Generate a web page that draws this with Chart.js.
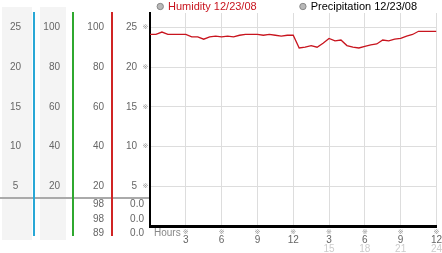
<!DOCTYPE html>
<html>
<head>
<meta charset="utf-8">
<script src="https://cdn.jsdelivr.net/npm/chart.js@4.4.1/dist/chart.umd.min.js"></script>
<style>
  html, body { margin: 0; padding: 0; background: #fff; }
  #chart { display: block; }
</style>
</head>
<body>
<canvas id="chart" width="442" height="253"></canvas>
<script>
// Half-hour readings, 12/23/08
const hours = [0, 0.5, 1, 1.5, 2, 2.5, 3, 3.5, 4, 4.5, 5, 5.5, 6, 6.5, 7, 7.5, 8, 8.5, 9, 9.5,
  10, 10.5, 11, 11.5, 12, 12.5, 13, 13.5, 14, 14.5, 15, 15.5, 16, 16.5, 17, 17.5, 18, 18.5, 19, 19.5,
  20, 20.5, 21, 21.5, 22, 22.5, 23, 23.5, 24];
const humidity = [24.1, 24.1, 24.4, 24.1, 24.1, 24.1, 24.1, 23.8, 23.8, 23.5, 23.8, 23.9, 23.8, 23.9, 23.8, 24.0, 24.1, 24.1, 24.1, 24.0,
  24.1, 24.0, 23.9, 24.0, 24.0, 22.4, 22.5, 22.7, 22.5, 23.0, 23.6, 23.3, 23.4, 22.7, 22.5, 22.4, 22.6, 22.8, 22.9, 23.4,
  23.3, 23.5, 23.6, 23.9, 24.1, 24.5, 24.5, 24.5, 24.5];
const precipHours = [0, 3, 6, 9, 12, 15, 18, 21, 24];
const precipitation = [0, 0, 0, 0, 0, 0, 0, 0, 0];

const seriesLabels = ['Humidity 12/23/08', 'Precipitation 12/23/08'];
const legendColors = ['#c8141e', '#000000'];

// left-hand scale columns
const scaleA = [5, 10, 15, 20, 25];
const scaleB = [20, 40, 60, 80, 100];
const scaleC = [20, 40, 60, 80, 100];
const scaleD = [5, 10, 15, 20, 25];

// current / min / max readings under the scale columns
const readingsC = ['98', '98', '89'];
const readingsD = ['0.0', '0.0', '0.0'];

// x tick labels, every 3 hours
const hourTicks = ['3', '6', '9', '12', '3', '6', '9', '12'];
const dayTicks = ['', '', '', '', '15', '18', '21', '24'];

const axisFont = { family: 'Liberation Sans', size: 10 };
const keepTicks = values => scale => {
    scale.ticks = scale.ticks.filter(t => values.includes(t.value));
};
// label offset comes from an invisible tick mark, so it doesn't add layout padding
const sideGrid = len => ({ display: false, drawTicks: true, tickLength: len });

const panelPlugin = {
    id: 'panel',
    afterLayout(chart) {
        // start the legend just right of the value axis
        const lg = chart.legend;
        const dx = chart.chartArea.left + 8 - (lg.left + lg.options.labels.padding);
        lg.left += dx;
        lg.right += dx;
    },
    beforeDraw(chart) {
        const { ctx, chartArea, scales } = chart;
        ctx.save();
        ctx.fillStyle = '#f4f4f4';
        ctx.fillRect(scales.yA.left + 2, 7, scales.yA.width - 3, 233);
        ctx.fillRect(scales.yB.left + 7, 7, scales.yB.width - 13, 233);
        ctx.fillStyle = '#aaaaaa';
        ctx.fillRect(0, chartArea.bottom - 29, chartArea.left, 2);
        ctx.restore();
    },
    afterDraw(chart) {
        const { ctx, chartArea, scales } = chart;
        ctx.save();
        // coloured column rules
        const rules = [[scales.yA, '#29a8d6'], [scales.yB, '#2fa82f'], [scales.yC, '#d02424']];
        rules.forEach(([s, c]) => {
            ctx.fillStyle = c;
            ctx.fillRect(Math.round(s.right), chartArea.top - 1, 2, chartArea.bottom - chartArea.top + 11);
        });
        // readings
        ctx.font = '10px "Liberation Sans"';
        ctx.fillStyle = '#666';
        ctx.textAlign = 'right';
        ctx.textBaseline = 'middle';
        [-22, -7, 7].forEach((dy, i) => {
            ctx.fillText(readingsC[i], scales.yC.right - 7, chartArea.bottom + dy);
            ctx.fillText(readingsD[i], scales.y.right - 6, chartArea.bottom + dy);
        });
        // tick markers
        ctx.font = '7px "DejaVu Sans"';
        ctx.fillStyle = '#999';
        ctx.textAlign = 'center';
        scales.y.ticks.forEach(t => {
            ctx.fillText('\u203B', chartArea.left - 4.5, scales.y.getPixelForValue(t.value));
        });
        scales.x.ticks.forEach(t => {
            if (t.value > 0) ctx.fillText('\u203B', scales.x.getPixelForValue(t.value), chartArea.bottom + 6);
        });
        // axis caption
        ctx.font = '10px "Liberation Sans"';
        ctx.fillStyle = '#888';
        ctx.textAlign = 'left';
        ctx.fillText('Hours', chartArea.left + 4, chartArea.bottom + 7);
        ctx.restore();
    }
};

new Chart(document.getElementById('chart'), {
    type: 'line',
    data: {
        datasets: [{
            label: seriesLabels[0],
            data: hours.map((h, i) => ({ x: h, y: humidity[i] })),
            borderColor: '#c8141e',
            borderWidth: 1.3,
            pointRadius: 0,
            tension: 0,
            yAxisID: 'y'
        }, {
            label: seriesLabels[1],
            data: precipHours.map((h, i) => ({ x: h, y: precipitation[i] })),
            borderColor: '#000',
            borderWidth: 2,
            pointRadius: 0,
            yAxisID: 'y'
        }]
    },
    options: {
        responsive: false,
        animation: false,
        devicePixelRatio: 1,
        layout: { padding: { top: -43, left: 0, right: 0, bottom: 0 } },
        plugins: {
            tooltip: { enabled: false },
            legend: {
                position: 'top',
                align: 'start',
                maxHeight: 56,
                labels: {
                    padding: 44,
                    usePointStyle: true,
                    boxWidth: 4.5,
                    boxHeight: 4.5,
                    font: { family: 'Liberation Sans', size: 11 },
                    generateLabels: chart => chart.data.datasets.map((ds, i) => ({
                        text: ds.label,
                        fillStyle: '#b8b8b8',
                        strokeStyle: '#888',
                        lineWidth: 1,
                        pointStyle: 'circle',
                        fontColor: legendColors[i],
                        datasetIndex: i,
                        hidden: false
                    }))
                }
            }
        },
        scales: {
            x: {
                type: 'linear',
                position: 'bottom',
                weight: 0,
                min: 0,
                max: 24,
                afterFit: s => { s.height = 17; },
                ticks: {
                    stepSize: 3,
                    autoSkip: false,
                    maxRotation: 0,
                    padding: 0,
                    color: '#666',
                    font: axisFont,
                    callback: v => v > 0 ? hourTicks[v / 3 - 1] : ''
                },
                grid: { color: '#dddddd', drawTicks: true, tickLength: 8, tickColor: 'rgba(0,0,0,0)' },
                border: { color: '#000', width: 3 }
            },
            x2: {
                type: 'linear',
                position: 'bottom',
                weight: 1,
                min: 0,
                max: 24,
                afterFit: s => { s.height = 10; },
                ticks: {
                    stepSize: 3,
                    autoSkip: false,
                    maxRotation: 0,
                    padding: 0,
                    color: '#cccccc',
                    font: axisFont,
                    callback: v => v > 0 ? dayTicks[v / 3 - 1] : ''
                },
                grid: { display: false, drawTicks: false },
                border: { display: false }
            },
            yA: {
                position: 'left',
                weight: 4,
                min: 0,
                max: 26.8,
                afterBuildTicks: keepTicks(scaleA),
                afterFit: s => { s.width = 33; },
                ticks: { stepSize: 5, crossAlign: 'center', padding: 0, color: '#666', font: axisFont },
                grid: sideGrid(12),
                border: { display: false }
            },
            yB: {
                position: 'left',
                weight: 3,
                min: 0,
                max: 107.2,
                afterBuildTicks: keepTicks(scaleB),
                afterFit: s => { s.width = 39; },
                ticks: { stepSize: 20, padding: 0, color: '#666', font: axisFont },
                grid: sideGrid(12),
                border: { display: false }
            },
            yC: {
                position: 'left',
                weight: 2,
                min: 0,
                max: 107.2,
                afterBuildTicks: keepTicks(scaleC),
                afterFit: s => { s.width = 39; },
                ticks: { stepSize: 20, padding: 0, color: '#666', font: axisFont },
                grid: sideGrid(7),
                border: { display: false }
            },
            y: {
                position: 'left',
                weight: 1,
                min: 0,
                max: 26.8,
                afterBuildTicks: keepTicks(scaleD),
                afterFit: s => { s.width = 39; },
                ticks: { stepSize: 5, padding: 0, color: '#666', font: axisFont },
                grid: { color: '#dddddd', drawTicks: true, tickLength: 13, tickColor: 'rgba(0,0,0,0)' },
                border: { color: '#000', width: 2 }
            }
        }
    },
    plugins: [panelPlugin]
});
</script>
</body>
</html>
